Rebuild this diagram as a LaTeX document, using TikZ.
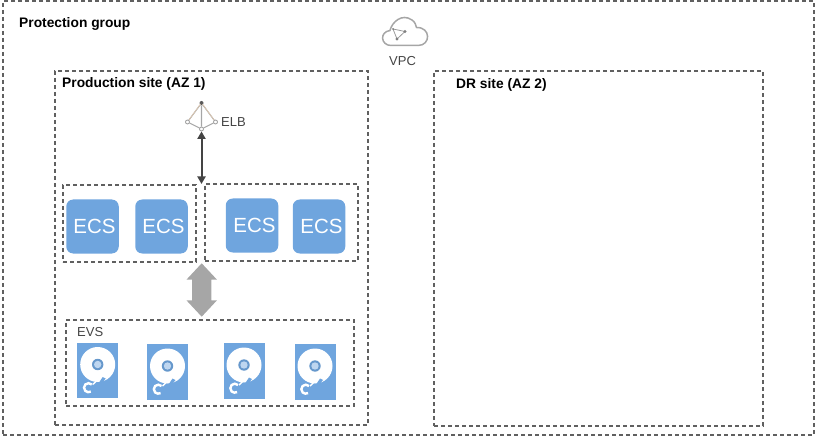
\documentclass[tikz,border=0pt]{standalone}
\usepackage{fontspec}
\setmainfont{Liberation Sans}
\usetikzlibrary{arrows.meta,shapes.arrows}
\definecolor{bl}{HTML}{6FA5DE}
\definecolor{dk}{HTML}{444444}
\tikzset{
 zone/.style={draw=dk!85,line width=1.1pt,dash pattern=on 4pt off 3pt,fill=none,inner sep=0pt},
 lbl/.style={font=\fontsize{13}{14}\selectfont,text=dk,inner sep=0pt,anchor=west},
 blbl/.style={font=\bfseries\fontsize{13.8}{15}\selectfont,text=black,inner sep=0pt,anchor=west},
 ecs/.style={fill=bl,draw=none,rounded corners=7pt,minimum width=52.5pt,minimum height=54pt,inner sep=0pt,text=white,font=\fontsize{20.5}{23}\selectfont},
 lgray/.style={draw=gray!70,line width=1.5pt},
 hub/.style={circle,inner sep=0pt,minimum size=4pt,draw=gray!80,fill=white,line width=.8pt},
}
\newcommand{\disk}[3]{%
 \node[fill=bl,minimum width=41pt,minimum height=55.5pt,inner sep=0pt] (#3) at (#1,#2) {};
 \fill[white] (#1,#2-6) circle (17.5pt);
 \fill[bl] (#1+1,#2+12.5) -- (#1+5,#2+6.5) -- (#1+8,#2+8) -- (#1+4,#2+13) -- cycle;
 \draw[white,line width=1.4pt] (#1-5,#2+14) -- (#1+2,#2+7.5);
 \fill[bl!92!black] (#1,#2-6) circle (5.7pt);
 \fill[bl!45!white] (#1,#2-6) circle (3.7pt);
 \draw[white,line width=2.4pt] (#1-6,#2+14) arc[start angle=45,end angle=300,radius=4.5pt];
}
\begin{document}
\begin{tikzpicture}[x=1pt,y=-1pt]
\useasboundingbox (0,0) rectangle (818,438);
\node[zone,minimum width=811pt,minimum height=434pt] (pg) at (408.5,218) {};
\node[zone,minimum width=313pt,minimum height=354pt] (prod) at (211.5,248) {};
\node[zone,minimum width=329pt,minimum height=355pt] (dr) at (598.5,248.5) {};
\node[zone,minimum width=133pt,minimum height=77pt] (g1) at (129.5,223.5) {};
\node[zone,minimum width=153pt,minimum height=77pt] (g2) at (281.5,222.5) {};
\node[zone,minimum width=288pt,minimum height=86pt] (evs) at (210,363) {};
\node[blbl] (tpg) at (19,23.5) {Protection group};
\node[blbl] (tprod) at (62,84) {Production site (AZ 1)};
\node[blbl] (tdr) at (456,85) {DR site (AZ 2)};
\node[lbl] (tvpc) at (389,61) {VPC};
\node[lbl] (telb) at (221,122) {ELB};
\node[lbl] (tevs) at (77,332) {EVS};
\node[ecs] (e1) at (92.5,226.5) {\hspace*{4pt}ECS};
\node[ecs] (e2) at (161.5,226.5) {\hspace*{4pt}ECS};
\node[ecs] (e3) at (252,225.5) {\hspace*{5pt}ECS};
\node[ecs] (e4) at (319,226.5) {\hspace*{5pt}ECS};
\disk{97.7}{370.5}{d1}
\disk{167.5}{372}{d2}
\disk{244}{371}{d3}
\disk{315}{372}{d4}
% cloud
\draw[lgray] (391,45.5) .. controls (381,45.5) and (379,32) .. (390,30.5)
 .. controls (392,22) and (402,13) .. (412,20) .. controls (415,22) and (416,25) .. (416.5,27.5)
 .. controls (431,27) and (431,45.5) .. (418,45.5) -- cycle;
\coordinate (v1) at (393,29);
\coordinate (v2) at (405,31.5);
\coordinate (v3) at (397,39);
\draw[gray!80,line width=.8pt] (v1) -- (v2) -- (v3) -- cycle;
\fill[gray] (v1) circle (1pt) (v2) circle (1.7pt) (v3) circle (1.7pt);
% ELB
\node[hub,fill=gray!70!black,draw=none] (ea) at (201.5,103) {};
\node[hub] (eb) at (187.5,122) {};
\node[hub] (ec) at (215.5,122) {};
\node[hub] (ed) at (201.5,129) {};
\draw[gray!70,line width=1.1pt] (ea) -- (eb) -- (ed) -- (ec) -- (ea) (ea) -- (ed);
\draw[brown!40,line width=.6pt] (ea) ++(-1,1) -- (eb);
\draw[brown!40,line width=.6pt] (ea) ++(1,1) -- (ec);
% connectors
\coordinate (atop) at (ed.south);
\coordinate (abot) at (201.5,184);
\draw[dk,line width=2pt,{Triangle[length=7.5pt,width=8pt]}-{Triangle[length=7.5pt,width=8pt]}] (atop) -- (abot);
\node[double arrow,fill=gray!70,draw=none,rotate=90,minimum height=53.4pt,
 double arrow head extend=5.5pt,inner xsep=0pt,inner ysep=9.5pt,double arrow tip angle=86] (big) at (201.7,290) {};
\end{tikzpicture}
\end{document}
